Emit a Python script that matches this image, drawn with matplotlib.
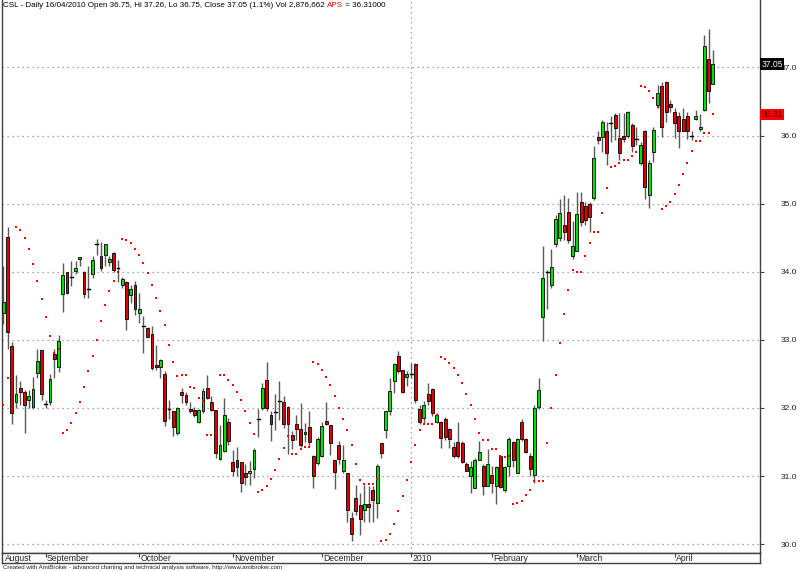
import matplotlib
matplotlib.use('Agg')
import matplotlib.pyplot as plt
from matplotlib.patches import Rectangle
import matplotlib.transforms as mtransforms

# ---------------- data ----------------
opens = [33.40, 34.51, 32.91, 32.08, 32.29, 32.24, 32.12, 32.01, 32.51, 32.85,
         32.06, 32.08, 32.79, 32.60, 33.68, 34.00, 33.93, 34.01, 34.19, 34.00,
         33.75, 33.97, 34.41, 34.23, 34.25, 34.15, 34.28, 34.05, 33.81, 33.85,
         33.66, 33.80, 33.40, 33.20, 33.17, 33.08, 32.63, 32.60, 32.50, 31.99,
         31.95, 31.63, 32.24, 32.19, 31.99, 31.97, 31.80, 31.96, 32.30, 32.09,
         31.97, 31.25, 31.37, 31.80, 31.21, 31.23, 31.20, 31.05, 31.05, 31.10,
         31.84, 32.00, 32.41, 31.89, 31.94, 32.10, 32.09, 32.01, 31.60, 31.77,
         31.69, 31.62, 31.72, 31.30, 31.19, 31.30, 31.81, 31.75, 31.23, 31.46,
         31.07, 31.04, 30.38, 30.68, 30.58, 30.50, 30.59, 30.80, 30.60, 31.48,
         31.68, 31.95, 32.40, 32.76, 32.55, 32.45, 32.50, 32.65, 31.99, 31.85,
         32.20, 32.28, 31.80, 31.80, 31.84, 31.69, 31.43, 31.50, 31.49, 31.17,
         31.00, 30.83, 31.24, 31.15, 30.85, 31.02, 30.86, 31.29, 30.80, 31.15,
         31.50, 31.05, 31.79, 31.55, 31.30, 31.02, 32.02, 33.33, 33.99, 33.81,
         34.41, 34.50, 34.69, 34.87, 34.23, 34.31, 35.02, 34.96, 34.99, 35.09,
         35.98, 35.98, 36.07, 36.18, 36.30, 35.97, 36.00, 35.99, 36.15, 35.95,
         35.59, 36.06, 35.13, 35.76, 36.45, 36.73, 36.79, 36.47, 36.34, 36.29,
         36.24, 36.29, 35.99, 36.24, 36.09, 36.38, 37.12, 36.75]
highs = [34.08, 34.65, 32.97, 32.49, 32.39, 32.27, 32.27, 32.45, 32.86, 32.85,
         32.11, 32.50, 32.86, 33.07, 34.13, 34.00, 34.16, 34.16, 34.22, 34.01,
         34.08, 34.23, 34.48, 34.44, 34.40, 34.23, 34.29, 34.17, 33.92, 33.87,
         33.80, 33.87, 33.69, 33.35, 33.19, 33.20, 32.92, 32.72, 32.54, 32.12,
         31.95, 32.01, 32.29, 32.24, 32.09, 32.02, 31.99, 32.30, 32.48, 32.18,
         31.97, 31.75, 32.15, 31.85, 31.38, 31.42, 31.21, 31.18, 31.22, 31.41,
         31.98, 32.37, 32.67, 31.95, 32.20, 32.40, 32.17, 32.03, 31.66, 31.90,
         32.07, 31.78, 31.95, 31.31, 31.58, 31.80, 32.08, 31.75, 31.24, 31.52,
         31.45, 31.04, 30.47, 30.87, 30.75, 30.87, 30.86, 30.86, 31.17, 31.48,
         31.96, 32.44, 32.66, 32.83, 32.56, 32.54, 32.66, 32.66, 32.05, 32.10,
         32.37, 32.29, 31.93, 31.81, 31.86, 31.71, 31.50, 31.79, 31.51, 31.20,
         31.22, 31.27, 31.51, 31.18, 31.39, 31.15, 31.15, 31.29, 31.15, 31.58,
         31.51, 31.56, 31.84, 31.56, 31.34, 32.05, 32.44, 34.38, 34.03, 34.34,
         34.84, 35.07, 35.13, 35.08, 34.74, 35.17, 35.17, 35.02, 35.02, 35.85,
         36.06, 36.23, 36.20, 36.29, 36.33, 36.33, 36.33, 36.36, 36.18, 36.12,
         35.91, 36.08, 35.64, 36.13, 36.74, 36.78, 36.80, 36.52, 36.40, 36.35,
         36.41, 36.35, 36.06, 36.38, 36.32, 37.47, 37.56, 37.26]
lows = [33.23, 32.86, 31.77, 32.00, 32.05, 31.63, 32.00, 31.99, 32.44, 32.12,
        32.00, 32.04, 32.44, 32.53, 33.41, 33.67, 33.79, 33.96, 34.08, 33.62,
        33.62, 33.91, 34.25, 34.01, 34.08, 34.08, 33.99, 33.85, 33.76, 33.15,
        33.54, 33.37, 33.25, 32.81, 33.04, 32.56, 32.56, 32.44, 31.73, 31.84,
        31.59, 31.61, 32.07, 32.04, 31.92, 31.87, 31.78, 31.93, 32.13, 31.96,
        31.26, 31.24, 31.36, 31.46, 31.00, 31.00, 30.77, 30.87, 30.87, 30.97,
        31.58, 31.97, 31.95, 31.51, 31.68, 31.83, 31.71, 31.33, 31.40, 31.53,
        31.42, 31.50, 31.42, 30.82, 31.16, 31.28, 31.75, 31.31, 30.81, 31.17,
        31.05, 30.33, 30.04, 30.43, 30.13, 30.33, 30.32, 30.33, 30.39, 31.27,
        31.56, 31.89, 32.22, 32.51, 32.22, 32.32, 32.44, 32.07, 31.76, 31.76,
        32.05, 31.88, 31.78, 31.41, 31.53, 31.41, 31.27, 31.27, 31.19, 31.07,
        30.75, 30.82, 31.24, 30.72, 30.85, 30.75, 30.59, 30.82, 30.76, 31.00,
        31.13, 31.04, 31.52, 31.34, 31.00, 30.90, 31.99, 32.98, 33.45, 33.76,
        34.36, 34.45, 34.47, 34.42, 34.19, 34.30, 34.67, 34.69, 34.58, 35.05,
        35.88, 35.76, 35.57, 35.90, 35.94, 35.64, 35.91, 35.96, 35.76, 35.86,
        35.57, 35.07, 34.93, 35.61, 36.40, 35.98, 36.20, 36.35, 35.96, 35.81,
        36.06, 35.95, 35.94, 36.23, 36.06, 36.36, 36.48, 36.75]
closes = [33.56, 33.12, 31.93, 32.20, 32.24, 32.04, 32.17, 32.28, 32.69, 32.21,
          32.06, 32.42, 32.72, 32.98, 33.95, 33.69, 33.93, 34.05, 34.21, 33.68,
          33.75, 34.17, 34.41, 34.05, 34.40, 34.19, 34.02, 34.05, 33.90, 33.30,
          33.75, 33.46, 33.46, 33.20, 33.04, 32.59, 32.60, 32.70, 31.81, 31.99,
          31.72, 32.00, 32.19, 32.09, 31.95, 31.89, 31.97, 32.25, 32.15, 31.97,
          31.34, 31.46, 31.90, 31.51, 31.08, 31.14, 30.90, 30.98, 31.08, 31.38,
          31.84, 32.29, 32.00, 31.77, 31.94, 32.10, 31.76, 31.77, 31.53, 31.69,
          31.45, 31.65, 31.50, 31.00, 31.54, 31.74, 31.76, 31.48, 31.06, 31.25,
          31.23, 30.50, 30.15, 30.48, 30.37, 30.59, 30.54, 30.65, 31.15, 31.34,
          31.96, 32.25, 32.64, 32.54, 32.24, 32.50, 32.50, 32.11, 31.80, 32.04,
          32.10, 31.93, 31.89, 31.56, 31.57, 31.54, 31.30, 31.30, 31.21, 31.08,
          31.14, 31.24, 31.35, 30.85, 31.18, 30.90, 31.13, 30.84, 31.13, 31.55,
          31.24, 31.55, 31.54, 31.35, 31.11, 32.00, 32.26, 33.91, 33.99, 34.07,
          34.77, 34.86, 34.59, 34.46, 34.38, 34.85, 34.73, 34.76, 34.80, 35.67,
          35.93, 36.20, 35.75, 36.18, 36.11, 35.74, 35.95, 36.34, 35.85, 35.95,
          35.86, 35.25, 35.59, 36.08, 36.62, 36.13, 36.34, 36.42, 36.19, 36.06,
          36.07, 36.07, 35.99, 36.29, 36.13, 37.32, 36.66, 37.05]
sar = [32.04, 32.44, 32.80, 34.66, 34.61, 34.50, 34.33, 34.11, 33.86, 33.60,
       33.33, 33.05, 32.80, 32.87, 31.63, 31.67, 31.78, 31.92, 32.09, 32.31,
       32.54, 32.77, 33.00, 33.27, 33.51, 33.71, 33.87, 33.99, 34.48, 34.47,
       34.42, 34.34, 34.24, 34.13, 33.98, 33.81, 33.61, 33.42, 33.22, 32.92,
       32.68, 32.47, 32.48, 32.48, 32.31, 32.30, 32.15, 32.10, 31.60, 31.61,
       31.63, 32.49, 32.48, 32.41, 32.34, 32.24, 32.11, 31.95, 31.78, 31.62,
       30.76, 30.79, 30.85, 30.96, 31.09, 31.25, 31.41, 31.59, 31.32, 31.32,
       31.40, 31.43, 31.43, 32.67, 32.64, 32.55, 32.46, 32.33, 32.17, 32.00,
       31.84, 31.67, 31.45, 31.17, 30.94, 30.88, 30.89, 30.89, 30.95, 30.04,
       30.06, 30.15, 30.29, 30.48, 30.70, 30.94, 31.20, 31.45, 31.68, 31.76,
       31.76, 31.76, 31.90, 32.75, 32.72, 32.66, 32.59, 32.49, 32.36, 32.21,
       32.05, 31.84, 31.63, 31.53, 31.53, 31.40, 31.40, 31.30, 31.28, 31.29,
       30.59, 30.61, 30.64, 30.72, 30.80, 30.92, 30.92, 30.92, 31.48, 32.00,
       32.48, 32.96, 33.38, 33.73, 34.02, 33.99, 33.99, 34.23, 34.42, 34.58,
       34.58, 34.86, 35.23, 35.54, 35.55, 35.60, 35.64, 35.64, 35.70, 35.76,
       36.73, 36.71, 36.65, 36.55, 36.42, 34.92, 34.97, 35.03, 35.14, 35.28,
       35.43, 35.60, 35.77, 35.92, 35.92, 36.03, 36.03, 36.31]
month_labels = ['September', 'October', 'November', 'December', '2010',
                'February', 'March', 'April']
month_bars = [10, 32, 54, 75, 96, 115, 135, 158]
first_label = 'August'
price_ticks = [30.0, 31.0, 32.0, 33.0, 34.0, 35.0, 36.0, 37.0]
last_close = 37.05
last_sar = 36.31

title_main = ('CSL - Daily 16/04/2010 Open 36.75, Hi 37.26, Lo 36.75, '
              'Close 37.05 (1.1%) Vol 2,876,662 ')
title_aps = 'APS'
title_tail = ' = 36.31000'
footer = ('Created with AmiBroker - advanced charting and technical analysis '
          'software. http://www.amibroker.com')

# ---------------- figure ----------------
plt.rcParams['font.family'] = ['Liberation Sans', 'DejaVu Sans']
W, H = 800, 571
fig = plt.figure(figsize=(W / 100, H / 100), dpi=100)
fig.patch.set_facecolor('white')

x_left, x_right = 2, 760
ax = fig.add_axes([x_left / W, (H - 553) / H, (x_right - x_left) / W, 553 / H])
ax.set_facecolor('white')
ax.set_xlim(-0.3, 178.1)
ax.set_ylim(29.87, 37.99)

grid_style = dict(color='#8c8c8c', lw=0.9, linestyle=(0, (1, 3)), zorder=0)
for p in price_ticks:
    ax.axhline(p, **grid_style)
ax.axvline(month_bars[4], **grid_style)

bw = 0.68
for i in range(len(opens)):
    o, h, l, c = opens[i], highs[i], lows[i], closes[i]
    ax.plot([i, i], [l, h], color='#5a5a5a', lw=1.0, zorder=2,
            solid_capstyle='butt')
    if abs(c - o) < 0.015:
        ax.plot([i - bw / 2, i + bw / 2], [c, c], color='black', lw=1.0, zorder=3)
    else:
        col = '#00e000' if c > o else '#e00000'
        ax.add_patch(Rectangle((i - bw / 2, min(o, c)), bw, abs(c - o),
                               facecolor=col, edgecolor='black', lw=0.6, zorder=3))

ax.scatter(range(len(sar)), sar, marker='s', s=2.2, color='#ff0000',
           linewidths=0, zorder=4)

ax.spines['top'].set_visible(False)
for s in ['left', 'right', 'bottom']:
    ax.spines[s].set_color('#404040')
    ax.spines[s].set_linewidth(1.0)
ax.set_xticks([])
ax.set_yticks(price_ticks)
ax.set_yticklabels([f'{p:.1f}' for p in price_ticks])
ax.tick_params(axis='y', left=False, labelleft=False, right=True,
               labelright=True, direction='out', length=3, width=0.8,
               color='#404040', pad=12, labelsize=6.0, labelcolor='#202020')

trans = mtransforms.blended_transform_factory(ax.transAxes, ax.transData)
ax.text(1.002, last_close, f'{last_close:.2f}', transform=trans, ha='left',
        va='center', fontsize=6.2, color='white', zorder=10,
        bbox=dict(boxstyle='square,pad=0.12', fc='black', ec='none'))
ax.text(1.002, last_sar, f'{last_sar:.2f}', transform=trans, ha='left',
        va='center', fontsize=6.2, color='#5a0000', zorder=10,
        bbox=dict(boxstyle='square,pad=0.12', fc='#ff0000', ec='none'))

# title line
tfs = 5.75
t1 = ax.text(0.0015, 0.997, title_main, transform=ax.transAxes, ha='left',
             va='top', fontsize=tfs, color='black')
fig.canvas.draw()
bb = t1.get_window_extent()
inv = ax.transAxes.inverted()
x2 = inv.transform((bb.x1, bb.y1))[0]
t2 = ax.text(x2, 0.997, title_aps, transform=ax.transAxes, ha='left',
             va='top', fontsize=tfs, color='#ff0000')
fig.canvas.draw()
bb2 = t2.get_window_extent()
x3 = inv.transform((bb2.x1, bb2.y1))[0]
ax.text(x3, 0.997, title_tail, transform=ax.transAxes, ha='left',
        va='top', fontsize=tfs, color='black')

# date band
ax2 = fig.add_axes([x_left / W, (H - 563) / H, (x_right - x_left) / W, 10 / H])
ax2.set_xlim(ax.get_xlim())
ax2.set_ylim(0, 1)
ax2.set_yticks([])
ax2.set_xticks(month_bars)
ax2.set_xticklabels([])
ax2.tick_params(axis='x', top=True, bottom=False, direction='in', length=3,
                width=0.8, color='#404040')
for s in ax2.spines.values():
    s.set_color('#404040')
    s.set_linewidth(1.0)
ax2.text(0.4, 0.45, first_label, ha='left', va='center', fontsize=6.2,
         color='#202020')
for b, lab in zip(month_bars, month_labels):
    ax2.text(b + 0.25, 0.45, lab, ha='left', va='center', fontsize=6.2,
             color='#202020')

fig.text(3 / W, 1 - 567 / H, footer, ha='left', va='center', fontsize=4.45,
         color='#202020')

fig.savefig('out.png', dpi=100, facecolor='white')
